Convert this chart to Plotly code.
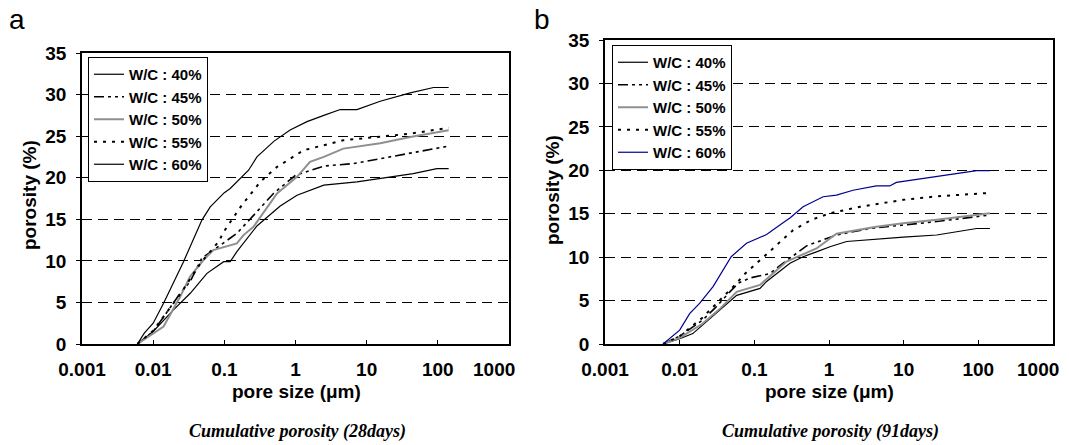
import plotly.graph_objects as go

W, H = 1069, 445

# ---------------- Data: 28 days (panel a) ----------------
a_x40 = [0.006, 0.01, 0.0193, 0.0332, 0.057, 0.098, 0.121, 0.15, 0.287, 0.356, 0.61, 1.05, 2.5, 7.3, 21, 45, 97, 142]
a_y40 = [0, 1.5, 4.1, 6.1, 8.5, 9.9, 9.9, 11.1, 14.2, 14.9, 16.6, 17.9, 19.1, 19.5, 20.1, 20.5, 21.1, 21.1]
a_x45 = [0.006, 0.01, 0.024, 0.033, 0.048, 0.121, 0.15, 0.272, 0.49, 1.0, 2.5, 6.5, 15.5, 41, 142]
a_y45 = [0, 1.5, 6.1, 7.5, 10.3, 12.7, 13.3, 15.7, 18.1, 20.3, 21.4, 21.7, 22.3, 22.9, 23.8]
a_x50 = [0.006, 0.014, 0.024, 0.033, 0.051, 0.07, 0.15, 0.186, 0.257, 0.55, 1.05, 1.6, 2.5, 4.7, 15.5, 41, 142]
a_y50 = [0, 2.1, 5.7, 8.1, 10.1, 11.3, 12.1, 13.1, 14.1, 18.1, 20.1, 21.9, 22.5, 23.5, 24.15, 24.9, 25.7]
a_x55 = [0.006, 0.01, 0.024, 0.046, 0.083, 0.098, 0.176, 0.32, 0.55, 1.3, 4.7, 15.5, 41, 142]
a_y55 = [0, 1.6, 6.0, 9.7, 12.3, 13.5, 16.7, 19.5, 21.3, 23.3, 24.5, 24.9, 25.3, 26.0]
a_x60 = [0.006, 0.0075, 0.01, 0.014, 0.0267, 0.0484, 0.0634, 0.1, 0.121, 0.219, 0.287, 0.5, 0.84, 1.45, 2.5, 4.25, 7.3, 15.5, 41, 87, 142]
a_y60 = [0, 1.3, 2.5, 4.9, 9.9, 14.9, 16.5, 18.2, 18.7, 20.9, 22.5, 24.4, 25.75, 26.75, 27.5, 28.2, 28.2, 29.2, 30.2, 30.85, 30.85]

# ---------------- Data: 91 days (panel b) ----------------
b_x40 = [0.006, 0.01, 0.015, 0.0345, 0.058, 0.119, 0.146, 0.30, 0.45, 0.68, 1.03, 1.72, 5.9, 9.9, 27.7, 95, 143]
b_y40 = [0, 0.6, 1.2, 3.9, 5.6, 6.4, 7.2, 9.3, 10.05, 10.6, 11.2, 11.8, 12.2, 12.3, 12.55, 13.3, 13.3]
b_x45 = [0.006, 0.01, 0.0206, 0.031, 0.047, 0.061, 0.087, 0.161, 0.243, 0.5, 1.26, 3.5, 9.9, 27.7, 143]
b_y45 = [0, 0.9, 2.8, 4.3, 6.0, 7.0, 7.6, 8.1, 9.3, 11.3, 12.55, 13.3, 13.7, 14.1, 14.85]
b_x50 = [0.006, 0.01, 0.02, 0.035, 0.058, 0.119, 0.27, 0.68, 1.26, 4.3, 9.9, 27.7, 143]
b_y50 = [0, 0.7, 2.3, 4.1, 6.0, 6.8, 9.5, 11.0, 12.7, 13.5, 13.9, 14.3, 15.05]
b_x55 = [0.006, 0.01, 0.02, 0.03, 0.058, 0.071, 0.107, 0.146, 0.198, 0.33, 0.585, 1.03, 2.6, 9.9, 27.7, 143]
b_y55 = [0, 0.9, 3.0, 4.5, 7.0, 7.9, 9.3, 10.4, 11.4, 13.1, 14.3, 15.05, 15.8, 16.6, 17.0, 17.4]
b_x60 = [0.006, 0.01, 0.0136, 0.0186, 0.028, 0.049, 0.0785, 0.146, 0.256, 0.30, 0.45, 0.835, 1.26, 2.1, 4.3, 6.5, 8.0, 27.7, 95, 143]
b_y60 = [0, 1.6, 3.5, 4.7, 6.6, 10.05, 11.6, 12.6, 14.1, 14.5, 15.8, 16.95, 17.15, 17.7, 18.2, 18.2, 18.6, 19.3, 19.95, 19.95]

series_names = ["W/C : 40%", "W/C : 45%", "W/C : 50%", "W/C : 55%", "W/C : 60%"]
x_tickvals = [0.001, 0.01, 0.1, 1, 10, 100, 1000]
x_ticklabels = ["0.001", "0.01", "0.1", "1", "10", "100", "1000"]
y_tickvals = [0, 5, 10, 15, 20, 25, 30, 35]

# the last label ("1000") is drawn right-aligned at its tick, as in the original
x_ticktext = x_ticklabels[:-1] + [""]

panel_a = [(a_x40, a_y40), (a_x45, a_y45), (a_x50, a_y50), (a_x55, a_y55), (a_x60, a_y60)]
panel_b = [(b_x40, b_y40), (b_x45, b_y45), (b_x50, b_y50), (b_x55, b_y55), (b_x60, b_y60)]

styles_a = [
    dict(color="black", width=1.2, dash="solid"),
    dict(color="black", width=1.6, dash="10px,4px,3px,4px,3px,4px"),
    dict(color="#8f8f8f", width=2, dash="solid"),
    dict(color="black", width=2, dash="3px,6px"),
    dict(color="black", width=1.2, dash="solid"),
]
styles_b = [dict(s) for s in styles_a]
styles_b[4] = dict(color="#00008b", width=1.2, dash="solid")

fig = go.Figure()
for (xs, ys), st, nm in zip(panel_a, styles_a, series_names):
    fig.add_trace(go.Scatter(x=xs, y=ys, mode="lines", name=nm, line=st,
                             xaxis="x", yaxis="y", legend="legend"))
for (xs, ys), st, nm in zip(panel_b, styles_b, series_names):
    fig.add_trace(go.Scatter(x=xs, y=ys, mode="lines", name=nm, line=st,
                             xaxis="x2", yaxis="y2", legend="legend2"))

def px_x(p):
    return p / W

def px_y(p):
    return 1 - p / H

tickfont = dict(family="Liberation Sans", size=19, color="black", weight="bold")

def xaxis_cfg(d0, d1, anchor):
    return dict(type="log", domain=[px_x(d0), px_x(d1)], range=[-3, 3], anchor=anchor,
                tickvals=x_tickvals, ticktext=x_ticktext, tickfont=tickfont,
                ticks="inside", ticklen=4, tickcolor="black", tickwidth=1,
                showline=True, linecolor="black", linewidth=1.5, mirror=True,
                showgrid=False, zeroline=False, ticklabelstandoff=7, automargin=False)

def yaxis_cfg(t, anchor):
    return dict(domain=[px_y(344), px_y(t)], range=[0, 35], anchor=anchor,
                tickvals=y_tickvals, tickfont=tickfont,
                ticks="outside", ticklen=4, tickcolor="black", tickwidth=1,
                showline=True, linecolor="black", linewidth=1.5, mirror=True,
                showgrid=True, gridcolor="black", gridwidth=1, griddash="10px,6px",
                zeroline=False, ticklabelstandoff=6, automargin=False)

legend_font = dict(family="Liberation Sans", size=15, color="black", weight="bold")

annotations = []
def ann(text, x, y, size, family="Liberation Sans", weight="normal", style="normal", angle=0):
    annotations.append(dict(text=text, x=px_x(x), y=px_y(y), xref="paper", yref="paper",
                            xanchor="center", yanchor="middle", showarrow=False, textangle=angle,
                            font=dict(family=family, size=size, color="black", weight=weight, style=style)))

ann("a", 17, 19, 28)
ann("b", 542, 19, 28)
ann("porosity (%)", 30, 195, 19, weight="bold", angle=-90)
ann("porosity (%)", 553, 190, 19, weight="bold", angle=-90)
ann("pore size (\u03bcm)", 296, 391, 19, weight="bold")
ann("pore size (\u03bcm)", 829, 391, 19, weight="bold")
ann("Cumulative porosity (28days)", 297, 431, 18, family="Liberation Serif", weight="bold", style="italic")
ann("Cumulative porosity (91days)", 830, 431, 18, family="Liberation Serif", weight="bold", style="italic")

# last x tick label, tied to the axis position of its tick value
for xr in ["x", "x2"]:
    annotations.append(dict(text=x_ticklabels[-1], x=3, xref=xr, y=px_y(369), yref="paper",
                            xanchor="right", yanchor="middle", xshift=8, showarrow=False,
                            font=tickfont))

fig.update_layout(
    width=W, height=H, margin=dict(l=0, r=0, t=0, b=0, autoexpand=False),
    paper_bgcolor="white", plot_bgcolor="white",
    xaxis=xaxis_cfg(82, 509, "y"),
    yaxis=yaxis_cfg(53, "x"),
    xaxis2=xaxis_cfg(605, 1053, "y2"),
    yaxis2=yaxis_cfg(40, "x2"),
    legend=dict(x=px_x(88), y=px_y(57), xanchor="left", yanchor="top",
                bgcolor="white", bordercolor="black", borderwidth=1, font=legend_font,
                tracegroupgap=0, itemwidth=30),
    legend2=dict(x=px_x(612), y=px_y(45), xanchor="left", yanchor="top",
                 bgcolor="white", bordercolor="black", borderwidth=1, font=legend_font,
                 tracegroupgap=0, itemwidth=30),
    annotations=annotations,
    showlegend=True,
)

fig.write_html("out.html", config={"displayModeBar": False},
               post_script="document.body.style.margin='0';document.body.style.overflow='hidden';")
